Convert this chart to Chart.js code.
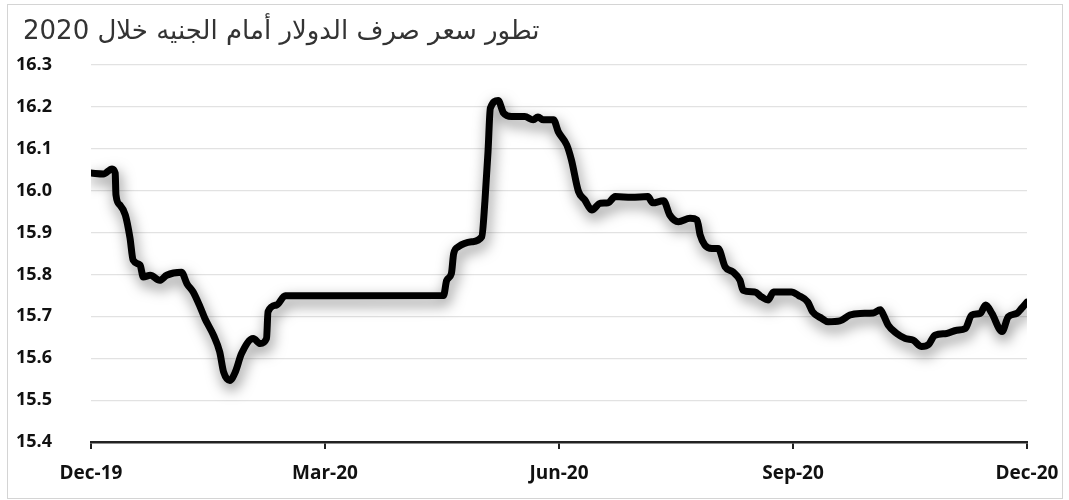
<!DOCTYPE html>
<html>
<head>
<meta charset="utf-8">
<script src="https://cdn.jsdelivr.net/npm/chart.js@4"></script>
<style>
  body { margin: 0; background: #fff; }
  #wrap { position: relative; width: 1069px; height: 500px; }
  #frame { position: absolute; left: 7px; top: 4px; width: 1054px; height: 493px;
           border: 1px solid #d4d4d4; pointer-events: none; }
</style>
</head>
<body>
<div id="wrap">
  <canvas id="myChart"></canvas>
  <div id="frame"></div>
</div>
<script>
const titleText = "تطور سعر صرف الدولار أمام الجنيه خلال 2020";

// months after 1 Dec 2019
const months = [0.00, 0.16, 0.27, 0.31, 0.32, 0.37, 0.44, 0.50, 0.54, 0.63, 0.67, 0.76, 0.88, 0.97,
  1.16, 1.23, 1.31, 1.40, 1.46, 1.57, 1.65, 1.70, 1.78, 1.85, 1.93, 2.08, 2.17, 2.25, 2.27, 2.38, 2.49,
  4.52, 4.56, 4.62, 4.65, 4.71, 4.88, 5.01, 5.05, 5.09, 5.12, 5.22, 5.29, 5.39, 5.56, 5.67, 5.73, 5.80,
  5.93, 5.99, 6.10, 6.16, 6.25, 6.33, 6.42, 6.53, 6.63, 6.72, 6.93, 7.14, 7.20, 7.34, 7.42, 7.53, 7.68,
  7.77, 7.81, 7.87, 7.96, 8.04, 8.13, 8.23, 8.32, 8.36, 8.51, 8.60, 8.68, 8.75, 8.98, 9.07, 9.19, 9.25,
  9.37, 9.45, 9.60, 9.73, 9.86, 10.03, 10.12, 10.16, 10.22, 10.33, 10.44, 10.54, 10.65, 10.74, 10.82,
  10.97, 11.10, 11.21, 11.29, 11.40, 11.47, 11.55, 11.68, 11.76, 11.87, 11.93, 12.00];

const rates = [16.042, 16.040, 16.052, 16.042, 15.990, 15.966, 15.942, 15.887, 15.834, 15.822, 15.794, 15.798, 15.786, 15.798,
  15.805, 15.778, 15.758, 15.722, 15.695, 15.655, 15.615, 15.567, 15.547, 15.567, 15.611, 15.647, 15.635, 15.647, 15.711, 15.727, 15.749,
  15.750, 15.786, 15.802, 15.850, 15.866, 15.878, 15.890, 15.974, 16.093, 16.197, 16.215, 16.185, 16.177, 16.177, 16.169, 16.176, 16.169,
  16.169, 16.141, 16.109, 16.073, 15.998, 15.978, 15.954, 15.970, 15.971, 15.986, 15.984, 15.986, 15.971, 15.976, 15.942, 15.926, 15.934,
  15.930, 15.894, 15.870, 15.862, 15.862, 15.818, 15.806, 15.786, 15.762, 15.758, 15.746, 15.739, 15.758, 15.758, 15.750, 15.734, 15.711,
  15.695, 15.687, 15.689, 15.703, 15.707, 15.708, 15.716, 15.703, 15.679, 15.659, 15.647, 15.643, 15.628, 15.633, 15.655,
  15.659, 15.667, 15.671, 15.703, 15.707, 15.727, 15.707, 15.664, 15.699, 15.707, 15.719, 15.734];

const tickMonths = [0, 3, 6, 9, 12];
const tickLabels = ["Dec-19", "Mar-20", "Jun-20", "Sep-20", "Dec-20"];

const shadow = {
  id: "shadow",
  beforeDatasetDraw(chart) {
    const c = chart.ctx;
    c.save();
    c.shadowColor = "rgba(0,0,0,0.5)";
    c.shadowBlur = 14;
    c.shadowOffsetX = 2;
    c.shadowOffsetY = 6;
  },
  afterDatasetDraw(chart) {
    chart.ctx.restore();
  },
};

const arTitle = {
  id: "arTitle",
  afterDraw(chart) {
    const c = chart.ctx;
    c.save();
    c.font = '26px "DejaVu Sans", sans-serif';
    c.fillStyle = "#333";
    c.textAlign = "left";
    c.textBaseline = "alphabetic";
    c.fillText(titleText, 23, 39);
    c.restore();
  },
};

const tickFont = { family: "'Open Sans', sans-serif", size: 18, weight: "bold" };

const config = {
  type: "line",
  data: {
    datasets: [
      {
        data: months.map((m, i) => ({ x: m, y: rates[i] })),
        borderColor: "#000",
        borderWidth: 7,
        borderJoinStyle: "round",
        borderCapStyle: "round",
        pointRadius: 0,
        cubicInterpolationMode: "monotone",
        fill: false,
      },
    ],
  },
  options: {
    responsive: true,
    maintainAspectRatio: false,
    animation: false,
    layout: { padding: { left: 16, right: 42, top: 65, bottom: 0 } },
    plugins: { legend: { display: false }, tooltip: { enabled: false } },
    scales: {
      x: {
        type: "linear",
        min: 0,
        max: 12,
        afterBuildTicks(scale) {
          scale.ticks = tickMonths.map((v) => ({ value: v }));
        },
        afterFit(scale) {
          scale.height = 58;
          scale.paddingLeft = 0;
          scale.paddingRight = 0;
        },
        ticks: {
          callback: (v, i) => tickLabels[i],
          color: "#111",
          font: { family: "'Open Sans', sans-serif", size: 19, weight: "bold" },
          padding: 13,
          maxRotation: 0,
        },
        grid: { drawOnChartArea: false, drawTicks: true, tickLength: 7, color: "#222", lineWidth: 2 },
        border: { display: true, color: "#222", width: 2.5 },
      },
      y: {
        min: 15.4,
        max: 16.3,
        afterFit(scale) {
          scale.width = 75;
        },
        ticks: {
          stepSize: 0.1,
          callback: (v) => v.toFixed(1),
          color: "#111",
          font: tickFont,
          crossAlign: "far",
        },
        grid: { color: "#e2e2e2", lineWidth: 1.2, drawTicks: false },
        border: { display: false },
      },
    },
  },
  plugins: [shadow, arTitle],
};

const myChart = new Chart(document.getElementById("myChart"), config);
</script>
</body>
</html>
